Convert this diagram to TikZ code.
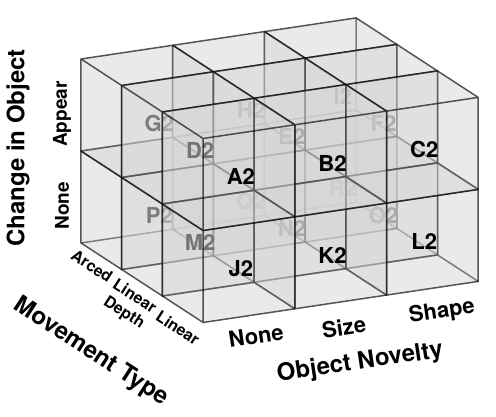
\documentclass[tikz,border=0pt]{standalone}
\usepackage{fontspec}
\setmainfont{TeX Gyre Heros}

\definecolor{facegray}{gray}{0.84}
\definecolor{backleft}{gray}{0.12}
\definecolor{backrest}{gray}{0.30}
\definecolor{midleft}{gray}{0.06}
\definecolor{midrest}{gray}{0.50}

\tikzset{
  cubeface/.style={fill=facegray, fill opacity=0.3},
  cubeedge/.style={draw=black, draw opacity=0.65, line width=1.5pt, line join=round},
  cubelabel/.style={font=\bfseries\fontsize{22}{22}\selectfont},
  axistitle/.style={font=\bfseries\fontsize{24}{24}\selectfont},
  novelty/.style={font=\bfseries\fontsize{22}{22}\selectfont, rotate=8.5},
  movement/.style={font=\bfseries\fontsize{16}{19}\selectfont, rotate=-33, align=center},
  change/.style={font=\bfseries\fontsize{19}{19}\selectfont, rotate=90}
}

% one glass cube of the grid, with its label inside
\newcommand{\gridcube}[5]{%
  \begin{scope}[shift={(#1,#2,#3)}]
    % hidden faces and edges
    \fill[cubeface] (0,0,0) -- (1,0,0) -- (1,1,0) -- (0,1,0) -- cycle;
    \fill[cubeface] (1,0,0) -- (1,1,0) -- (1,1,1) -- (1,0,1) -- cycle;
    \fill[cubeface] (0,0,0) -- (1,0,0) -- (1,0,1) -- (0,0,1) -- cycle;
    \draw[cubeedge] (0,0,0) -- (1,0,0) -- (1,1,0) (1,0,0) -- (1,0,1);
    % visible faces
    \fill[cubeface] (0,0,0) -- (0,1,0) -- (0,1,1) -- (0,0,1) -- cycle;
    \fill[cubeface] (0,1,0) -- (1,1,0) -- (1,1,1) -- (0,1,1) -- cycle;
    \fill[cubeface] (0,0,1) -- (1,0,1) -- (1,1,1) -- (0,1,1) -- cycle;
    % label
    \node[cubelabel, text=#5] (#4) at (0.5,0.45,0.8) {#4};
    % visible edges
    \draw[cubeedge] (0,0,0) -- (0,1,0) -- (1,1,0) -- (1,1,1) -- (1,0,1) -- (0,0,1) -- cycle
      (0,1,1) -- (0,0,1) (0,1,1) -- (0,1,0) (0,1,1) -- (1,1,1);
  \end{scope}}

\begin{document}
\begin{tikzpicture}[x={(91.7pt,13.7pt)}, y={(0pt,92pt)}, z={(40.7pt,-26.5pt)}]
	\useasboundingbox (-81pt,-174pt) rectangle (415pt,243pt);
	% Draw the cubes from back to front
	\foreach \i/\j/\k/\lab/\shade in {
		2/0/0/R2/backrest, 2/1/0/I2/backrest, 1/0/0/Q2/backrest, 1/1/0/H2/backrest, 0/0/0/P2/backleft, 0/1/0/G2/backleft,
		2/0/1/O2/midrest, 2/1/1/F2/midrest, 1/0/1/N2/midrest, 1/1/1/E2/midrest, 0/0/1/M2/midleft, 0/1/1/D2/midleft,
		2/0/2/L2/black, 2/1/2/C2/black, 1/0/2/K2/black, 1/1/2/B2/black, 0/0/2/J2/black, 0/1/2/A2/black}
		{\gridcube{\i}{\j}{\k}{\lab}{\shade}}
	% Change in object
	\node[axistitle, rotate=90] (changeaxis) at (-63pt,95pt) {Change in Object};
	\node[change] (appear) at (-19pt,129pt) {Appear};
	\node[change] (nochange) at (-19pt,37pt) {None};
	% Movement type
	\node[movement] (arced) at (11pt,-23pt) {Arced};
	\node[movement] (depth) at (48pt,-62pt) {Linear\\Depth};
	\node[movement] (linear) at (97pt,-85pt) {Linear};
	\node[axistitle, rotate=-33] (moveaxis) at (10pt,-109pt) {Movement Type};
	% Object novelty
	\node[novelty] (nonovel) at (175pt,-93pt) {None};
	\node[novelty] (size) at (263pt,-84pt) {Size};
	\node[novelty] (shape) at (361pt,-69pt) {Shape};
	\node[axistitle, rotate=8.5] (novelaxis) at (279pt,-120pt) {Object Novelty};
\end{tikzpicture}
\end{document}
